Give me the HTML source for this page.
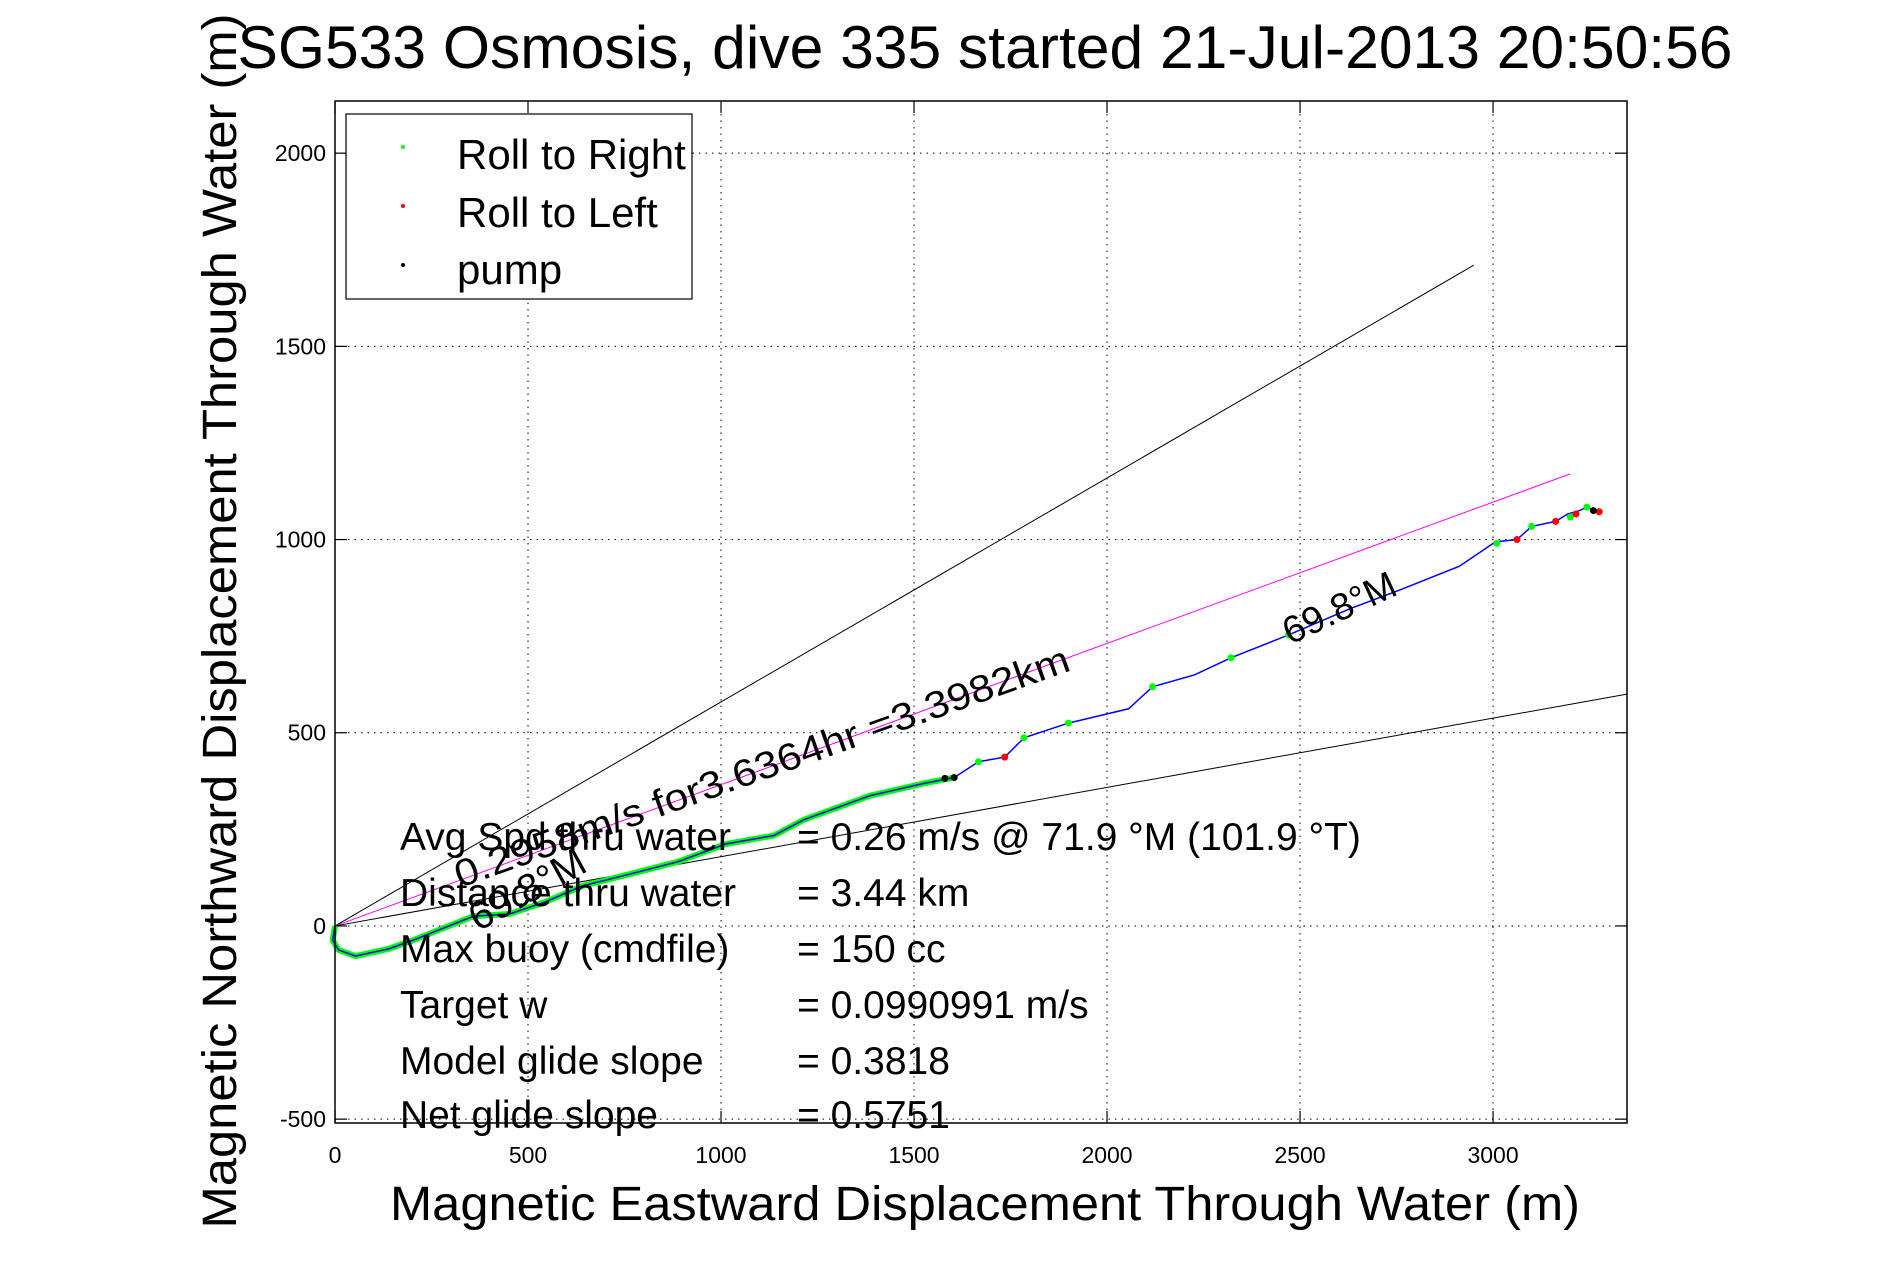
<!DOCTYPE html>
<html><head><meta charset="utf-8"><style>
html,body{margin:0;padding:0;background:#fff;}
svg{display:block;font-family:"Liberation Sans",sans-serif;}
</style></head><body>
<svg id="chart" width="1891" height="1262" viewBox="0 0 1891 1262" xmlns="http://www.w3.org/2000/svg">
<rect width="1891" height="1262" fill="#fff"/>
<text x="985" y="68" font-size="60" text-anchor="middle" textLength="1495" lengthAdjust="spacingAndGlyphs">SG533 Osmosis, dive 335 started 21-Jul-2013 20:50:56</text>
<g id="grid"></g>
<g id="refs"></g>
<g id="track"></g>
<rect x="335" y="101" width="1292" height="1022" fill="none" stroke="#000" stroke-width="1.5"/>
<g id="ticks" font-size="23"></g>
<text x="985" y="1220" font-size="48" text-anchor="middle" textLength="1190" lengthAdjust="spacingAndGlyphs">Magnetic Eastward Displacement Through Water (m)</text>
<text x="0" y="0" font-size="48" text-anchor="middle" textLength="1215" lengthAdjust="spacingAndGlyphs" transform="translate(236,621) rotate(-90)">Magnetic Northward Displacement Through Water (m)</text>
<g>
<rect x="346" y="114" width="346" height="185" fill="#fff" stroke="#000" stroke-width="1.2"/>
<circle cx="403" cy="147" r="2" fill="#0f0"/>
<circle cx="403" cy="206" r="2" fill="#f00"/>
<circle cx="403" cy="265" r="2" fill="#000"/>
<text x="457" y="169" font-size="42">Roll to Right</text>
<text x="457" y="227" font-size="42">Roll to Left</text>
<text x="457" y="284" font-size="42">pump</text>
</g>
<g font-size="38">
<text transform="translate(460,888) rotate(-19.6)" textLength="650" lengthAdjust="spacingAndGlyphs">0.2958m/s for3.6364hr =3.3982km</text>
<text transform="translate(1290,645) rotate(-25)">69.8°M</text>
<text transform="translate(478,932) rotate(-29)" font-size="40">69.8°M</text>
</g>
<g font-size="39">
<text x="400" y="850">Avg Spd thru water</text>
<text x="797" y="850">=  0.26 m/s @  71.9 °M (101.9 °T)</text>
<text x="400" y="906">Distance thru water</text>
<text x="797" y="906">=  3.44 km</text>
<text x="400" y="962">Max buoy (cmdfile)</text>
<text x="797" y="962">= 150 cc</text>
<text x="400" y="1018">Target w</text>
<text x="797" y="1018">= 0.0990991 m/s</text>
<text x="400" y="1074">Model glide slope</text>
<text x="797" y="1074">= 0.3818</text>
<text x="400" y="1128">Net glide slope</text>
<text x="797" y="1128">= 0.5751</text>
</g>
</svg>
<script>
const xTicks = [0,500,1000,1500,2000,2500,3000];
const yTicks = [-500,0,500,1000,1500,2000];
const trackX = [0,-6,9,53,140,202,280,358,452,545,639,763,888,1012,1137,1215,1386,1526,1604,1667,1735,1785,1900,2056,2118,2227,2321,2470,2632,2757,2913,3006,3062,3100,3162,3193,3224,3243,3271];
const trackY = [0,-37,-62,-78,-59,-37,-6,25,31,62,103,134,166,212,234,275,337,369,384,425,437,487,525,562,619,650,694,753,822,869,931,994,1000,1034,1047,1066,1075,1084,1072];
const greenMarkX = [1667,1785,1900,2118,2321,2470,3010,3100,3200,3243];
const greenMarkY = [425,487,525,619,694,753,990,1034,1058,1084];
const redMarkX = [1735,3062,3162,3215,3275];
const redMarkY = [437,1000,1047,1066,1072];
const pumpMarkX = [1580,1604,3260];
const pumpMarkY = [382,384,1075];
const refEndX = [2950,3200,3347];
const refEndY = [1710,1170,600];
const refColor = ['#000','#f0f','#000'];

const X0=0, X1=3347, Y0=-510, Y1=2135;
const PL=335, PR=1627, PT=101, PB=1123;
const sx = v => PL + (v - X0) / (X1 - X0) * (PR - PL);
const sy = v => PB - (v - Y0) / (Y1 - Y0) * (PB - PT);
const NS='http://www.w3.org/2000/svg';
function mk(tag, parent, attrs){const e=document.createElementNS(NS,tag);for(const k in attrs)e.setAttribute(k,attrs[k]);parent.appendChild(e);return e;}
const grid=document.getElementById('grid'), ticks=document.getElementById('ticks'), refs=document.getElementById('refs'), track=document.getElementById('track');
xTicks.forEach(t=>{
  const g=mk('line',grid,{x1:sx(t),x2:sx(t),y1:PT,y2:PB,stroke:'#000','stroke-width':1,'stroke-dasharray':'1.5,5'});
  
  
  const tk=mk('line',grid,{x1:sx(t),x2:sx(t),y1:PB,y2:PB-12,stroke:'#000','stroke-width':1.2});
  
  
  const tk2=mk('line',grid,{x1:sx(t),x2:sx(t),y1:PT,y2:PT+12,stroke:'#000','stroke-width':1.2});
  
  
  const l=mk('text',ticks,{x:sx(t),y:1176-13,'text-anchor':'middle'});l.textContent=t;
  
  
});
yTicks.forEach(t=>{
  const g=mk('line',grid,{x1:PL,x2:PR,y1:sy(t),y2:sy(t),stroke:'#000','stroke-width':1,'stroke-dasharray':'1.5,5'});
  
  
  const tk=mk('line',grid,{x1:PL,x2:PL+12,y1:sy(t),y2:sy(t),stroke:'#000','stroke-width':1.2});
  
  
  const tk2=mk('line',grid,{x1:PR,x2:PR-12,y1:sy(t),y2:sy(t),stroke:'#000','stroke-width':1.2});
  
  
  const l=mk('text',ticks,{x:326,y:sy(t)+8,'text-anchor':'end'});l.textContent=t;
  
  
});
refEndX.forEach((ex,i)=>{
  const l=mk('line',refs,{x1:sx(0),y1:sy(0),x2:sx(ex),y2:sy(refEndY[i]),stroke:refColor[i],'stroke-width':1});
  
  
});
const pts=trackX.map((x,i)=>sx(x)+','+sy(trackY[i]));
const nGreen=trackX.filter(x=>x<=1604).length;
const gl=mk('polyline',track,{points:pts.slice(0,nGreen).join(' '),fill:'none',stroke:'#0f0','stroke-width':6,'stroke-linejoin':'round'});


const bl=mk('polyline',track,{points:pts.join(' '),fill:'none',stroke:'#00f','stroke-width':1.5});


function marks(xs,ys,col,name){xs.forEach((x,i)=>{const c=mk('circle',track,{cx:sx(x),cy:sy(ys[i]),r:3.5,fill:col});
  
  });}
marks(greenMarkX,greenMarkY,'#0f0','roll-right-point');
marks(redMarkX,redMarkY,'#f00','roll-left-point');
marks(pumpMarkX,pumpMarkY,'#000','pump-point');
</script>
</body></html>
